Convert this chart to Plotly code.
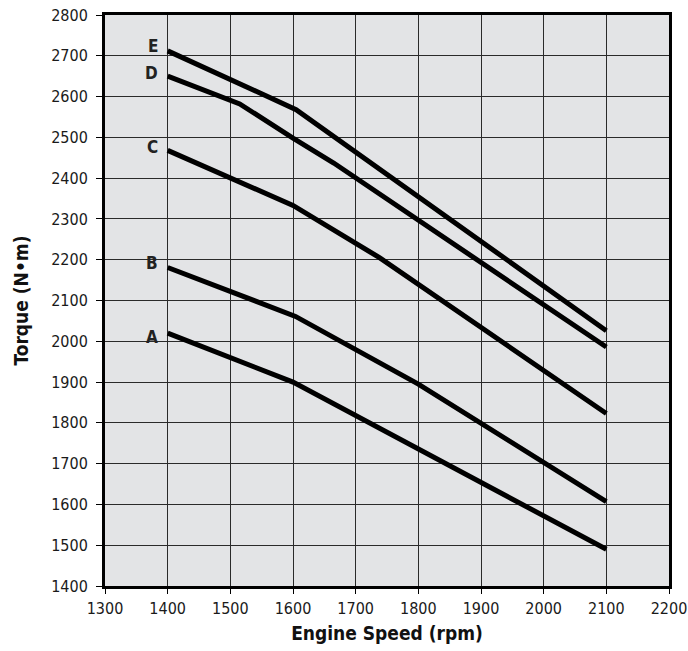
import plotly.graph_objects as go

# Engine speed (rpm) breakpoints and torque (N·m) for each curve
curve_names = ["A", "B", "C", "D", "E"]
speed_A = [1400, 1600, 2100]
torque_A = [2020, 1900, 1490]
speed_B = [1400, 1604, 1800, 2100]
torque_B = [2181, 2061, 1895, 1607]
speed_C = [1400, 1600, 1738, 2100]
torque_C = [2468, 2333, 2205, 1823]
speed_D = [1400, 1515, 1600, 1665, 2100]
torque_D = [2650, 2582, 2498, 2437, 1986]
speed_E = [1400, 1605, 2100]
torque_E = [2712, 2568, 2026]

x_ticks = [1300, 1400, 1500, 1600, 1700, 1800, 1900, 2000, 2100, 2200]
y_ticks = [1400, 1500, 1600, 1700, 1800, 1900, 2000, 2100, 2200, 2300, 2400, 2500, 2600, 2700, 2800]

speeds = [speed_A, speed_B, speed_C, speed_D, speed_E]
torques = [torque_A, torque_B, torque_C, torque_D, torque_E]
label_yshift = [-4, 4, 3, 3, 5]

font_narrow = "DejaVu Sans Condensed, Liberation Sans Narrow, sans-serif"

fig = go.Figure()
for name, xs, ys, dy in zip(curve_names, speeds, torques, label_yshift):
    fig.add_trace(go.Scatter(x=xs, y=ys, mode="lines", name=name,
                             line=dict(color="black", width=5),
                             showlegend=False, hoverinfo="x+y+name"))
    fig.add_annotation(x=xs[0], y=ys[0], text="<b>" + name + "</b>",
                       xref="x", yref="y", showarrow=False,
                       xanchor="right", yanchor="middle",
                       xshift=-8, yshift=dy,
                       font=dict(family=font_narrow, size=17, color="#222"))

axis_common = dict(showline=True, linecolor="black", linewidth=3, mirror=True,
                   showgrid=True, gridcolor="#2a2a2a", gridwidth=1,
                   ticks="outside", tickcolor="black", tickwidth=1,
                   zeroline=False, automargin=False, ticklabeloverflow="allow",
                   tickfont=dict(family=font_narrow, size=16, color="#1a1a1a"))

fig.update_xaxes(range=[1300, 2200], tickvals=x_ticks, ticklen=5,
                 title=dict(text="<b>Engine Speed (rpm)</b>", standoff=10,
                            font=dict(family=font_narrow, size=19, color="#111")),
                 ticklabelstandoff=1, **axis_common)
fig.update_yaxes(range=[1400, 2800], tickvals=y_ticks, ticklen=6,
                 title=dict(text="<b>Torque (N•m)</b>", standoff=18,
                            font=dict(family=font_narrow, size=19, color="#111")),
                 ticklabelstandoff=5, **axis_common)

fig.update_layout(width=688, height=651,
                  margin=dict(l=105, r=19, t=15, b=65),
                  plot_bgcolor="#e3e4e6", paper_bgcolor="white")

fig.write_html("out.html",
               config={"displayModeBar": False},
               post_script="document.body.style.margin='0';document.body.style.overflow='hidden';")
